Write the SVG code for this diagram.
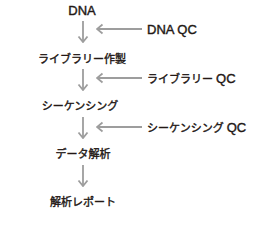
<svg xmlns="http://www.w3.org/2000/svg" width="280" height="230" viewBox="0 0 280 230">
<defs>
<style>
text{font-family:"Liberation Sans","Noto Sans CJK JP",sans-serif;font-size:11px;fill:#231815;stroke:#231815;stroke-width:0.4}
.c{text-anchor:middle}
.l{font-size:13px}
.a{stroke:#9d9d9d;stroke-width:1.8;fill:none}
</style>
<marker id="h" viewBox="0 0 12 12" refX="11" refY="6" markerWidth="12" markerHeight="12" orient="auto" markerUnits="userSpaceOnUse">
<path d="M5.5 1.5 L11 6 L5.5 10.5" fill="none" stroke="#9d9d9d" stroke-width="1.8"/>
</marker>
</defs>
<rect width="280" height="230" fill="#fff"/>
<g id="connectors">
<line class="a" x1="83" y1="21" x2="83" y2="42" marker-end="url(#h)"/>
<line class="a" x1="83" y1="69" x2="83" y2="90" marker-end="url(#h)"/>
<line class="a" x1="83" y1="117" x2="83" y2="138" marker-end="url(#h)"/>
<line class="a" x1="83" y1="165" x2="83" y2="186" marker-end="url(#h)"/>
<line class="a" x1="142" y1="29" x2="97" y2="29" marker-end="url(#h)"/>
<line class="a" x1="142" y1="78" x2="97" y2="78" marker-end="url(#h)"/>
<line class="a" x1="142" y1="127" x2="97" y2="127" marker-end="url(#h)"/>
</g>
<g id="dna"><text class="c l" x="82" y="15">DNA</text></g>
<g id="library"><text class="c" x="82" y="63">ライブラリー作製</text></g>
<g id="sequencing"><text class="c" x="80" y="110">シーケンシング</text></g>
<g id="analysis"><text class="c" x="83" y="158">データ解析</text></g>
<g id="report"><text class="c" x="83" y="206">解析レポート</text></g>
<g id="dna-qc"><text class="l" x="147" y="34">DNA QC</text></g>
<g id="library-qc"><text x="147" y="83">ライブラリー <tspan class="l">QC</tspan></text></g>
<g id="sequencing-qc"><text x="147" y="132">シーケンシング <tspan class="l">QC</tspan></text></g>
</svg>
